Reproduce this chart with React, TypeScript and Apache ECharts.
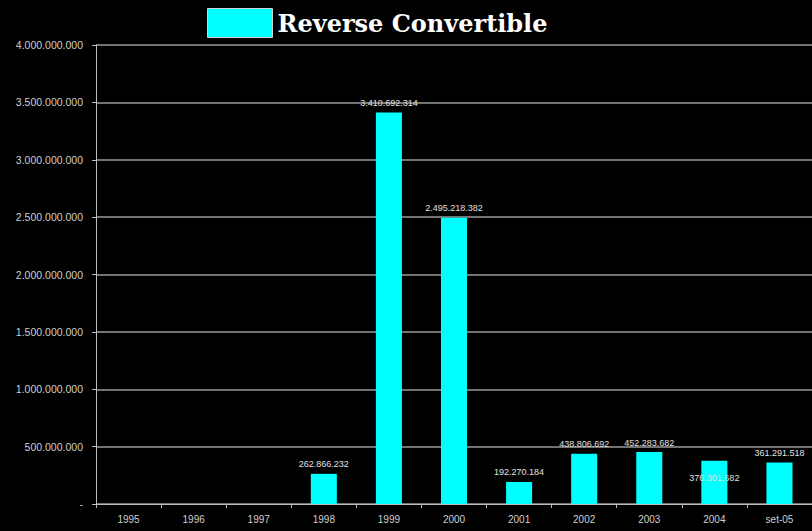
import React, { useEffect, useRef } from "react";
import * as echarts from "echarts";

const categories = ["1995", "1996", "1997", "1998", "1999", "2000", "2001", "2002", "2003", "2004", "set-05"];
const values: (number | null)[] = [null, null, null, 262866232, 3410692314, 2495218382, 192270184, 438806692, 452283682, 376301682, 361291518];
const insideLabelCategory = "2004";
const seriesName = "Reverse Convertible";

function fmt(v: number): string {
  if (!v) return "-";
  return Math.round(v).toString().replace(/\B(?=(\d{3})+(?!\d))/g, ".");
}

export default function App() {
  const ref = useRef<HTMLDivElement>(null);
  useEffect(() => {
    if (!ref.current) return;
    const chart = echarts.init(ref.current, null, { renderer: "svg" });
    const data = values.map((v, i) => {
      if (v === null) return { value: null };
      const inside = categories[i] === insideLabelCategory;
      return {
        value: v,
        label: inside
          ? { show: true, position: "insideTop", distance: 13 }
          : { show: true, position: "top", distance: 5 },
      };
    });
    chart.setOption({
      animation: false,
      backgroundColor: "#000000",
      legend: {
        left: 207,
        top: 8,
        padding: 0,
        itemWidth: 65,
        itemHeight: 29,
        itemGap: 6,
        icon: "rect",
        data: [seriesName],
        textStyle: {
          color: "#ffffff",
          fontFamily: "DejaVu Serif",
          fontWeight: "bold",
          fontSize: 24,
        },
        itemStyle: { borderColor: "#d0d0d0", borderWidth: 1 },
      },
      grid: { left: 96, right: -3, top: 45, bottom: 27, containLabel: false },
      xAxis: {
        type: "category",
        data: categories,
        axisLine: { lineStyle: { color: "#bdbdbd", width: 1 } },
        axisTick: { show: true, length: 4, lineStyle: { color: "#bdbdbd" } },
        axisLabel: { color: "#cfcfcf", fontSize: 10, fontFamily: "Liberation Sans", margin: 10 },
      },
      yAxis: {
        type: "value",
        min: 0,
        max: 4000000000,
        interval: 500000000,
        axisLine: { show: true, lineStyle: { color: "#bdbdbd", width: 1 } },
        axisTick: { show: true, length: 4, lineStyle: { color: "#bdbdbd" } },
        splitLine: { show: true, lineStyle: { color: "#9a9a9a", width: 1.5 } },
        axisLabel: {
          color: "#cfcfcf",
          fontSize: 10.5,
          fontFamily: "Liberation Sans",
          margin: 13,
          formatter: (v: number) => fmt(v),
        },
      },
      series: [
        {
          name: seriesName,
          type: "bar",
          data,
          barWidth: "40%",
          itemStyle: { color: "#00ffff" },
          label: {
            color: "#e0e0e0",
            fontSize: 9,
            fontFamily: "Liberation Sans",
            formatter: (p: any) => fmt(p.value),
          },
        },
      ],
    });
    return () => chart.dispose();
  }, []);
  return <div ref={ref} style={{ width: 812, height: 531, position: "absolute", left: 0, top: 0 }} />;
}
